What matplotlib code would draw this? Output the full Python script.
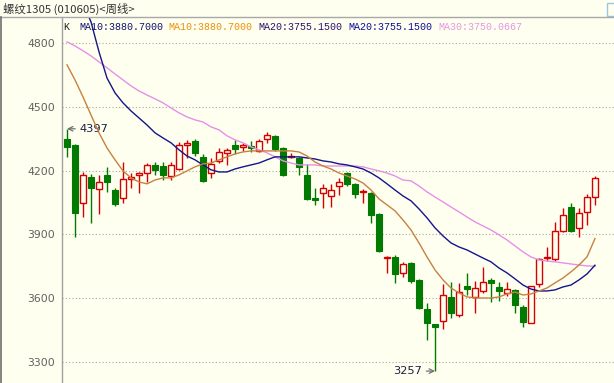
import matplotlib
matplotlib.use("Agg")
import matplotlib.pyplot as plt
from matplotlib.patches import Rectangle

# ---------------- data ----------------
opens  = [4349, 4321, 4048, 4171, 4114, 4180, 4109, 4072, 4161, 4180,
          4189, 4227, 4222, 4175, 4208, 4321, 4340, 4265, 4189, 4246,
          4283, 4321, 4312, 4316, 4293, 4349, 4363, 4307, 4265, 4260,
          4180, 4072, 4095, 4081, 4128, 4189, 4138, 4100, 4095, 3996,
          3789, 3794, 3719, 3766, 3686, 3549, 3479, 3493, 3606, 3521,
          3657, 3606, 3634, 3686, 3653, 3625, 3639, 3559, 3483, 3667,
          3789, 3785, 3916, 4030, 3930, 4006, 4076]
highs  = [4397, 4326, 4194, 4185, 4180, 4218, 4119, 4241, 4189, 4194,
          4236, 4241, 4241, 4241, 4335, 4345, 4349, 4279, 4260, 4307,
          4307, 4345, 4331, 4340, 4349, 4382, 4368, 4312, 4283, 4265,
          4232, 4119, 4138, 4138, 4166, 4194, 4142, 4114, 4100, 4001,
          3799, 3803, 3770, 3770, 3691, 3578, 3479, 3667, 3676, 3672,
          3719, 3681, 3747, 3695, 3676, 3676, 3643, 3568, 3657, 3789,
          3841, 3959, 4025, 4048, 4025, 4090, 4175]
lows   = [4265, 3888, 3982, 3954, 3996, 4100, 4034, 4048, 4119, 4095,
          4147, 4180, 4157, 4157, 4203, 4260, 4269, 4147, 4166, 4236,
          4227, 4279, 4293, 4288, 4288, 4330, 4293, 4175, 4260, 4180,
          4062, 4039, 4025, 4030, 4086, 4128, 4072, 4048, 3954, 3817,
          3719, 3672, 3700, 3672, 3549, 3404, 3257, 3455, 3507, 3512,
          3615, 3531, 3625, 3582, 3587, 3610, 3531, 3465, 3483, 3653,
          3775, 3775, 3911, 3911, 3888, 3945, 4039]
closes = [4312, 4001, 4180, 4119, 4147, 4147, 4043, 4161, 4171, 4189,
          4227, 4203, 4180, 4227, 4321, 4330, 4283, 4152, 4232, 4288,
          4298, 4302, 4321, 4307, 4340, 4368, 4302, 4180, 4270, 4217,
          4067, 4062, 4119, 4109, 4147, 4138, 4090, 4105, 3992, 3822,
          3794, 3714, 3761, 3681, 3554, 3483, 3465, 3615, 3531, 3629,
          3643, 3648, 3676, 3672, 3634, 3643, 3568, 3488, 3657, 3785,
          3794, 3916, 3992, 3916, 4001, 4076, 4166]

ma10 = [4698, 4627, 4547, 4462, 4378, 4307, 4251, 4199, 4166, 4147,
        4138, 4156, 4166, 4166, 4180, 4199, 4218, 4232, 4236, 4251,
        4265, 4279, 4288, 4293, 4293, 4293, 4293, 4293, 4293, 4288,
        4269, 4241, 4222, 4208, 4189, 4175, 4161, 4142, 4109, 4067,
        4039, 4011, 3968, 3921, 3860, 3794, 3733, 3686, 3648, 3625,
        3606, 3601, 3601, 3601, 3606, 3620, 3629, 3615, 3620, 3634,
        3648, 3672, 3695, 3724, 3756, 3794, 3880.7]
ma20 = [5150, 5080, 4990, 4900, 4759, 4636, 4566, 4519, 4481, 4448,
        4415, 4378, 4354, 4331, 4298, 4269, 4251, 4227, 4204, 4194,
        4194, 4208, 4218, 4227, 4236, 4251, 4265, 4265, 4265, 4265,
        4260, 4255, 4246, 4241, 4232, 4227, 4218, 4208, 4189, 4166,
        4138, 4109, 4081, 4058, 4020, 3978, 3931, 3893, 3860, 3841,
        3827, 3808, 3789, 3771, 3742, 3719, 3691, 3662, 3643, 3634,
        3634, 3639, 3653, 3662, 3686, 3714, 3755.15]
ma30 = [4806, 4787, 4764, 4740, 4712, 4684, 4655, 4627, 4599, 4575,
        4556, 4538, 4519, 4495, 4472, 4453, 4439, 4429, 4406, 4392,
        4364, 4345, 4331, 4312, 4298, 4284, 4265, 4246, 4236, 4227,
        4227, 4227, 4222, 4222, 4222, 4222, 4222, 4218, 4208, 4199,
        4189, 4175, 4156, 4152, 4128, 4100, 4076, 4053, 4029, 4006,
        3982, 3959, 3940, 3921, 3898, 3874, 3846, 3818, 3794, 3780,
        3775, 3771, 3766, 3761, 3756, 3752, 3750.07]

yticks = [3300, 3600, 3900, 4200, 4500, 4800]
title_text = "螺纹1305 (010605)<周线>"
legend_items = [("K", "#202020"),
                ("MA10:3880.7000", "#101070"),
                ("MA10:3880.7000", "#E8900A"),
                ("MA20:3755.1500", "#2A1070"),
                ("MA20:3755.1500", "#0A0AA0"),
                ("MA30:3750.0667", "#E496E8")]
hi_label, lo_label = "4397", "3257"

# ---------------- style ----------------
BG = "#FFFFF0"
RED = "#D60000"
GREEN = "#007A00"
W, H = 614, 383
fig = plt.figure(figsize=(W / 100, H / 100), dpi=100, facecolor=BG)

top_px = 17
left_px = 62
ax = fig.add_axes([left_px / W, 0, (W - left_px) / W, (H - top_px) / H])
ax.set_facecolor(BG)

n = len(opens)
xs = list(range(n))
ax.set_xlim(-0.625, -0.625 + (W - left_px) / 8.0)
ax.set_ylim(3201, 4923)

# grid
for t in yticks:
    ax.axhline(t, color="#A8A8A8", lw=0.8, ls=(0, (1, 2)), zorder=0)

# candles
bw = 0.72
for i in xs:
    o, h, l, c = opens[i], highs[i], lows[i], closes[i]
    up = c >= o
    col = RED if up else GREEN
    lo_b, hi_b = min(o, c), max(o, c)
    ax.vlines(i, l, lo_b, color=col, lw=1.0, zorder=2)
    ax.vlines(i, hi_b, h, color=col, lw=1.0, zorder=2)
    bh = max(hi_b - lo_b, 4)
    if up:
        ax.add_patch(Rectangle((i - bw / 2, lo_b), bw, bh, facecolor=BG,
                               edgecolor=col, lw=1.0, zorder=3))
    else:
        ax.add_patch(Rectangle((i - bw / 2, lo_b), bw, bh, facecolor=col,
                               edgecolor=col, lw=0.8, zorder=3))

# moving averages
ax.plot(xs, ma30, color="#E690E6", lw=1.0, zorder=4)
ax.plot(xs, ma20, color="#14148C", lw=1.0, zorder=4)
ax.plot(xs, ma10, color="#C88040", lw=1.0, zorder=4)

# high / low annotations
ax.annotate(hi_label, xy=(0, highs[0]), xytext=(1.55, highs[0]),
            va="center", ha="left", fontsize=8.2, color="#1A2040",
            arrowprops=dict(arrowstyle="->", color="#707070", lw=0.9,
                            shrinkA=1, shrinkB=0))
ax.annotate(lo_label, xy=(46, lows[46]), xytext=(44.4, lows[46]),
            va="center", ha="right", fontsize=8.2, color="#1A2040",
            arrowprops=dict(arrowstyle="->", color="#707070", lw=0.9,
                            shrinkA=1, shrinkB=0))

# axes cosmetics
ax.set_xticks([])
ax.set_yticks(yticks)
ax.set_yticklabels([str(t) for t in yticks], fontsize=7.8, color="#606060")
ax.tick_params(axis="y", length=0, pad=5)
for s in ["top", "right", "bottom"]:
    ax.spines[s].set_visible(False)
ax.spines["left"].set_color("#A0A0A0")
ax.spines["left"].set_linewidth(1.0)

# frame lines of the window
fig.add_artist(plt.Line2D([0, 1], [1 - top_px / H] * 2, color="#A8A8A8",
                          lw=1.0, transform=fig.transFigure))
fig.add_artist(plt.Line2D([1.5 / W] * 2, [0, 1 - top_px / H], color="#707070",
                          lw=1.2, transform=fig.transFigure))
fig.add_artist(Rectangle((607 / W, 1 - 16 / H), 8 / W, 13 / H,
                         transform=fig.transFigure, facecolor="none",
                         edgecolor="#9CC4E4", lw=1.0))

# title
fig.text(3 / W, 1 - 9 / H, title_text, fontsize=8.2, color="#333333",
         va="center", ha="left", family=["Noto Sans CJK SC", "DejaVu Sans"])

# legend texts
leg_x = [63, 79, 168, 258, 348, 438]
for (txt, col), xp in zip(legend_items, leg_x):
    fig.text(xp / W, 1 - 27 / H, txt, fontsize=7.2, color=col,
             va="center", ha="left", family="Liberation Mono")

fig.savefig("out.png", dpi=100, facecolor=BG)
